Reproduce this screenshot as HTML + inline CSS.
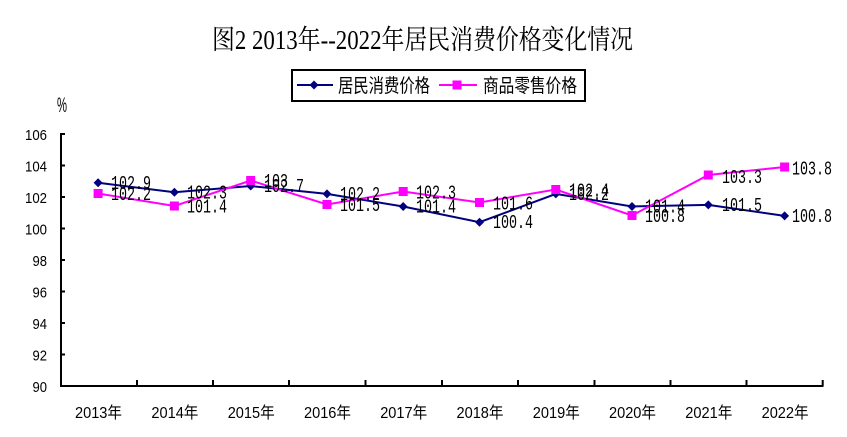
<!DOCTYPE html>
<html><head><meta charset="utf-8"><style>
html,body{margin:0;padding:0;background:#fff;}
svg{display:block;}
</style></head><body>
<svg width="847" height="437" viewBox="0 0 847 437" xmlns="http://www.w3.org/2000/svg">
<rect width="847" height="437" fill="#fff"/>
<!-- title -->
<text x="212" y="49" font-family="'Liberation Serif','Noto Serif CJK SC',serif" font-size="27" textLength="421" lengthAdjust="spacingAndGlyphs" fill="#000">图2 2013年--2022年居民消费价格变化情况</text>
<!-- legend -->
<rect x="292" y="70" width="293" height="31" fill="#fff" stroke="#000" stroke-width="2"/>
<line x1="297" y1="85" x2="333" y2="85" stroke="#000080" stroke-width="2"/>
<polygon points="314,80.5 318.5,85 314,89.5 309.5,85" fill="#000080"/>
<text x="338" y="92" font-family="'Liberation Sans','Noto Sans CJK SC',sans-serif" font-size="19" textLength="92" lengthAdjust="spacingAndGlyphs" fill="#000">居民消费价格</text>
<line x1="439" y1="85" x2="477" y2="85" stroke="#FF00FF" stroke-width="2"/>
<rect x="452.5" y="80.5" width="9" height="9" fill="#FF00FF"/>
<text x="483" y="92" font-family="'Liberation Sans','Noto Sans CJK SC',sans-serif" font-size="19" textLength="94" lengthAdjust="spacingAndGlyphs" fill="#000">商品零售价格</text>
<!-- % -->
<text x="57" y="112" font-family="'Liberation Sans',sans-serif" font-size="21" textLength="10" lengthAdjust="spacingAndGlyphs" fill="#000">%</text>
<!-- axes -->
<g stroke="#000" stroke-width="2" fill="none">
<line x1="61" y1="133" x2="61" y2="387"/>
<line x1="60" y1="386" x2="823.5" y2="386"/>
<line x1="61" y1="134" x2="65" y2="134"/>
<line x1="61" y1="165.5" x2="65" y2="165.5"/>
<line x1="61" y1="197" x2="65" y2="197"/>
<line x1="61" y1="228.5" x2="65" y2="228.5"/>
<line x1="61" y1="260" x2="65" y2="260"/>
<line x1="61" y1="291.5" x2="65" y2="291.5"/>
<line x1="61" y1="323" x2="65" y2="323"/>
<line x1="61" y1="354.5" x2="65" y2="354.5"/>
<line x1="137" y1="380" x2="137" y2="386"/>
<line x1="213" y1="380" x2="213" y2="386"/>
<line x1="289" y1="380" x2="289" y2="386"/>
<line x1="365.5" y1="380" x2="365.5" y2="386"/>
<line x1="442" y1="380" x2="442" y2="386"/>
<line x1="518" y1="380" x2="518" y2="386"/>
<line x1="594.5" y1="380" x2="594.5" y2="386"/>
<line x1="670.5" y1="380" x2="670.5" y2="386"/>
<line x1="746.5" y1="380" x2="746.5" y2="386"/>
<line x1="822.7" y1="380" x2="822.7" y2="386"/>
</g>
<!-- y labels -->
<g font-family="'Liberation Sans',sans-serif" font-size="15" fill="#000">
<text x="25" y="140" textLength="22" lengthAdjust="spacingAndGlyphs">106</text>
<text x="25" y="171.5" textLength="22" lengthAdjust="spacingAndGlyphs">104</text>
<text x="25" y="203" textLength="22" lengthAdjust="spacingAndGlyphs">102</text>
<text x="25" y="234.5" textLength="22" lengthAdjust="spacingAndGlyphs">100</text>
<text x="32.5" y="266" textLength="14.5" lengthAdjust="spacingAndGlyphs">98</text>
<text x="32.5" y="297.5" textLength="14.5" lengthAdjust="spacingAndGlyphs">96</text>
<text x="32.5" y="329" textLength="14.5" lengthAdjust="spacingAndGlyphs">94</text>
<text x="32.5" y="360.5" textLength="14.5" lengthAdjust="spacingAndGlyphs">92</text>
<text x="32.5" y="392" textLength="14.5" lengthAdjust="spacingAndGlyphs">90</text>
</g>
<!-- x labels -->
<g font-family="'Liberation Sans','Noto Sans CJK SC',sans-serif" font-size="16" fill="#000">
<text x="75" y="418" textLength="47" lengthAdjust="spacingAndGlyphs">2013年</text>
<text x="151.4" y="418" textLength="47" lengthAdjust="spacingAndGlyphs">2014年</text>
<text x="227.7" y="418" textLength="47" lengthAdjust="spacingAndGlyphs">2015年</text>
<text x="304" y="418" textLength="47" lengthAdjust="spacingAndGlyphs">2016年</text>
<text x="380.2" y="418" textLength="47" lengthAdjust="spacingAndGlyphs">2017年</text>
<text x="456.5" y="418" textLength="47" lengthAdjust="spacingAndGlyphs">2018年</text>
<text x="532.8" y="418" textLength="47" lengthAdjust="spacingAndGlyphs">2019年</text>
<text x="609" y="418" textLength="47" lengthAdjust="spacingAndGlyphs">2020年</text>
<text x="685.3" y="418" textLength="47" lengthAdjust="spacingAndGlyphs">2021年</text>
<text x="761.6" y="418" textLength="47" lengthAdjust="spacingAndGlyphs">2022年</text>
</g>
<!-- blue series -->
<polyline fill="none" stroke="#000080" stroke-width="2" points="98.1,182.8 174.4,192.3 250.7,186 327,193.9 403.2,206.5 479.5,222.2 555.8,193.9 632,206.5 708.3,204.9 784.6,215.9"/>
<g fill="#000080">
<polygon points="98.1,178.3 102.6,182.8 98.1,187.3 93.6,182.8"/>
<polygon points="174.4,187.8 178.9,192.3 174.4,196.8 169.9,192.3"/>
<polygon points="250.7,181.5 255.2,186 250.7,190.5 246.2,186"/>
<polygon points="327,189.4 331.5,193.9 327,198.4 322.5,193.9"/>
<polygon points="403.2,202 407.7,206.5 403.2,211 398.7,206.5"/>
<polygon points="479.5,217.7 484,222.2 479.5,226.7 475,222.2"/>
<polygon points="555.8,189.4 560.3,193.9 555.8,198.4 551.3,193.9"/>
<polygon points="632,202 636.5,206.5 632,211 627.5,206.5"/>
<polygon points="708.3,200.4 712.8,204.9 708.3,209.4 703.8,204.9"/>
<polygon points="784.6,211.4 789.1,215.9 784.6,220.4 780.1,215.9"/>
</g>
<!-- pink series -->
<polyline fill="none" stroke="#FF00FF" stroke-width="2" points="98.1,193.5 174.4,206 250.7,180.5 327,204.5 403.2,191.5 479.5,202.5 555.8,189.5 632,215.5 708.3,175 784.6,167"/>
<g fill="#FF00FF">
<rect x="93.6" y="189" width="9" height="9"/>
<rect x="169.9" y="201.5" width="9" height="9"/>
<rect x="246.2" y="176" width="9" height="9"/>
<rect x="322.5" y="200" width="9" height="9"/>
<rect x="398.7" y="187" width="9" height="9"/>
<rect x="475" y="198" width="9" height="9"/>
<rect x="551.3" y="185" width="9" height="9"/>
<rect x="627.5" y="211" width="9" height="9"/>
<rect x="703.8" y="170.5" width="9" height="9"/>
<rect x="780.1" y="162.5" width="9" height="9"/>
</g>
<!-- data labels -->
<g font-family="'Liberation Mono',monospace" font-size="19" fill="#000">
<text x="111" y="189" textLength="40" lengthAdjust="spacingAndGlyphs">102.9</text>
<text x="187" y="198.5" textLength="40" lengthAdjust="spacingAndGlyphs">102.3</text>
<text x="264" y="192" textLength="40" lengthAdjust="spacingAndGlyphs">102.7</text>
<text x="340" y="200" textLength="40" lengthAdjust="spacingAndGlyphs">102.2</text>
<text x="416" y="212.5" textLength="40" lengthAdjust="spacingAndGlyphs">101.4</text>
<text x="493" y="228" textLength="40" lengthAdjust="spacingAndGlyphs">100.4</text>
<text x="569" y="200" textLength="40" lengthAdjust="spacingAndGlyphs">102.2</text>
<text x="645" y="212.5" textLength="40" lengthAdjust="spacingAndGlyphs">101.4</text>
<text x="722" y="211" textLength="40" lengthAdjust="spacingAndGlyphs">101.5</text>
<text x="792" y="222" textLength="40" lengthAdjust="spacingAndGlyphs">100.8</text>

<text x="111" y="200" textLength="40" lengthAdjust="spacingAndGlyphs">102.2</text>
<text x="187" y="212.5" textLength="40" lengthAdjust="spacingAndGlyphs">101.4</text>
<text x="264" y="187" textLength="24" lengthAdjust="spacingAndGlyphs">103</text>
<text x="340" y="211" textLength="40" lengthAdjust="spacingAndGlyphs">101.5</text>
<text x="416" y="198.5" textLength="40" lengthAdjust="spacingAndGlyphs">102.3</text>
<text x="493" y="209.5" textLength="40" lengthAdjust="spacingAndGlyphs">101.6</text>
<text x="569" y="196.5" textLength="40" lengthAdjust="spacingAndGlyphs">102.4</text>
<text x="645" y="222" textLength="40" lengthAdjust="spacingAndGlyphs">100.8</text>
<text x="722" y="183" textLength="40" lengthAdjust="spacingAndGlyphs">103.3</text>
<text x="792" y="174.5" textLength="40" lengthAdjust="spacingAndGlyphs">103.8</text>
</g>
</svg>
</body></html>
